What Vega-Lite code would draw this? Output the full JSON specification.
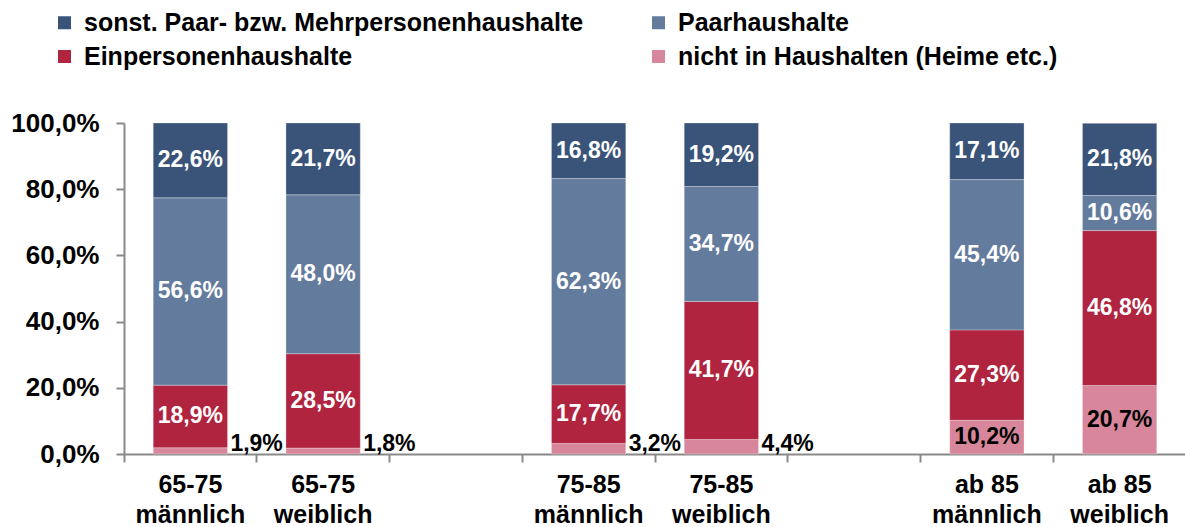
{
  "$schema": "https://vega.github.io/schema/vega-lite/v6.json",
  "padding": {"left": 10, "top": 10, "right": 0, "bottom": 0},
  "width": 1062,
  "height": 331,
  "background": "white",
  "config": {"view": {"stroke": null}},
  "data": {
    "values": [
      {"grp": "65-75|männlich", "typ": "nicht in Haushalten (Heime etc.)", "k": 1, "v": 1.9},
      {"grp": "65-75|männlich", "typ": "Einpersonenhaushalte", "k": 2, "v": 18.9},
      {"grp": "65-75|männlich", "typ": "Paarhaushalte", "k": 3, "v": 56.6},
      {"grp": "65-75|männlich", "typ": "sonst. Paar- bzw. Mehrpersonenhaushalte", "k": 4, "v": 22.6},
      {"grp": "65-75|weiblich", "typ": "nicht in Haushalten (Heime etc.)", "k": 1, "v": 1.8},
      {"grp": "65-75|weiblich", "typ": "Einpersonenhaushalte", "k": 2, "v": 28.5},
      {"grp": "65-75|weiblich", "typ": "Paarhaushalte", "k": 3, "v": 48.0},
      {"grp": "65-75|weiblich", "typ": "sonst. Paar- bzw. Mehrpersonenhaushalte", "k": 4, "v": 21.7},
      {"grp": "75-85|männlich", "typ": "nicht in Haushalten (Heime etc.)", "k": 1, "v": 3.2},
      {"grp": "75-85|männlich", "typ": "Einpersonenhaushalte", "k": 2, "v": 17.7},
      {"grp": "75-85|männlich", "typ": "Paarhaushalte", "k": 3, "v": 62.3},
      {"grp": "75-85|männlich", "typ": "sonst. Paar- bzw. Mehrpersonenhaushalte", "k": 4, "v": 16.8},
      {"grp": "75-85|weiblich", "typ": "nicht in Haushalten (Heime etc.)", "k": 1, "v": 4.4},
      {"grp": "75-85|weiblich", "typ": "Einpersonenhaushalte", "k": 2, "v": 41.7},
      {"grp": "75-85|weiblich", "typ": "Paarhaushalte", "k": 3, "v": 34.7},
      {"grp": "75-85|weiblich", "typ": "sonst. Paar- bzw. Mehrpersonenhaushalte", "k": 4, "v": 19.2},
      {"grp": "ab 85|männlich", "typ": "nicht in Haushalten (Heime etc.)", "k": 1, "v": 10.2},
      {"grp": "ab 85|männlich", "typ": "Einpersonenhaushalte", "k": 2, "v": 27.3},
      {"grp": "ab 85|männlich", "typ": "Paarhaushalte", "k": 3, "v": 45.4},
      {"grp": "ab 85|männlich", "typ": "sonst. Paar- bzw. Mehrpersonenhaushalte", "k": 4, "v": 17.1},
      {"grp": "ab 85|weiblich", "typ": "nicht in Haushalten (Heime etc.)", "k": 1, "v": 20.7},
      {"grp": "ab 85|weiblich", "typ": "Einpersonenhaushalte", "k": 2, "v": 46.8},
      {"grp": "ab 85|weiblich", "typ": "Paarhaushalte", "k": 3, "v": 10.6},
      {"grp": "ab 85|weiblich", "typ": "sonst. Paar- bzw. Mehrpersonenhaushalte", "k": 4, "v": 21.8}
    ]
  },
  "transform": [
    {"stack": "v", "groupby": ["grp"], "sort": [{"field": "k", "order": "ascending"}], "as": ["s0", "s1"]},
    {"calculate": "(datum.s0 + datum.s1) / 2", "as": "mid"},
    {"calculate": "replace(format(datum.v, '.1f'), '.', ',') + '%'", "as": "lab"}
  ],
  "encoding": {
    "x": {
      "field": "grp", "type": "nominal", "title": null,
      "scale": {
        "domain": ["65-75|männlich", "65-75|weiblich", "gap1", "75-85|männlich", "75-85|weiblich", "gap2", "ab 85|männlich", "ab 85|weiblich"],
        "paddingInner": 0, "paddingOuter": 0
      },
      "axis": {
        "bandPosition": 0,
        "domainColor": "#898989", "domainWidth": 2,
        "tickColor": "#898989", "tickWidth": 2, "tickSize": 8,
        "labelFont": "Liberation Sans", "labelFontWeight": "bold", "labelFontSize": 25,
        "labelColor": "black", "labelPadding": 10, "labelLineHeight": 30, "labelAngle": 0,
        "labelBaseline": "top", "labelLimit": 400,
        "labelExpr": "indexof(datum.value, '|') < 0 ? '' : split(datum.value, '|')"
      }
    }
  },
  "layer": [
    {
      "mark": {"type": "bar", "width": {"band": 0.56}, "stroke": "#ffffff", "strokeWidth": 0.6, "strokeOpacity": 0.5},
      "encoding": {
        "y": {
          "field": "s1", "type": "quantitative", "title": null,
          "scale": {"domain": [0, 100], "nice": false},
          "axis": {
            "values": [0, 20, 40, 60, 80, 100], "grid": false,
            "domainColor": "#898989", "domainWidth": 2, "tickColor": "#898989", "tickWidth": 2, "tickSize": 8,
            "labelFont": "Liberation Sans", "labelFontWeight": "bold", "labelFontSize": 26,
            "labelColor": "black", "labelPadding": 17,
            "labelExpr": "replace(format(datum.value, '.1f'), '.', ',') + '%'"
          }
        },
        "y2": {"field": "s0"},
        "color": {
          "field": "typ", "type": "nominal",
          "scale": {
            "domain": ["sonst. Paar- bzw. Mehrpersonenhaushalte", "Einpersonenhaushalte", "Paarhaushalte", "nicht in Haushalten (Heime etc.)"],
            "range": ["#3A5379", "#B02440", "#637B9D", "#D8869B"]
          },
          "legend": {
            "orient": "none", "legendX": -72, "legendY": -113, "columns": 2, "title": null,
            "symbolType": "square", "symbolSize": 169, "symbolStrokeWidth": 0,
            "labelFont": "Liberation Sans", "labelFontWeight": "bold", "labelFontSize": 25,
            "labelColor": "black", "labelLimit": 800, "labelOffset": 7,
            "columnPadding": 62, "rowPadding": 8
          }
        }
      }
    },
    {
      "transform": [{"filter": "datum.v >= 5"}],
      "mark": {"type": "text", "font": "Liberation Sans", "fontWeight": "bold", "fontSize": 23, "baseline": "middle", "align": "center"},
      "encoding": {
        "y": {"field": "mid", "type": "quantitative"},
        "text": {"field": "lab"},
        "color": {"condition": {"test": "datum.k == 1", "value": "black"}, "value": "white"}
      }
    },
    {
      "transform": [{"filter": "datum.v < 5"}],
      "mark": {"type": "text", "font": "Liberation Sans", "fontWeight": "bold", "fontSize": 23, "baseline": "alphabetic", "align": "left", "dx": 40, "dy": -3, "color": "black"},
      "encoding": {
        "y": {"field": "s0", "type": "quantitative"},
        "text": {"field": "lab"}
      }
    }
  ]
}
